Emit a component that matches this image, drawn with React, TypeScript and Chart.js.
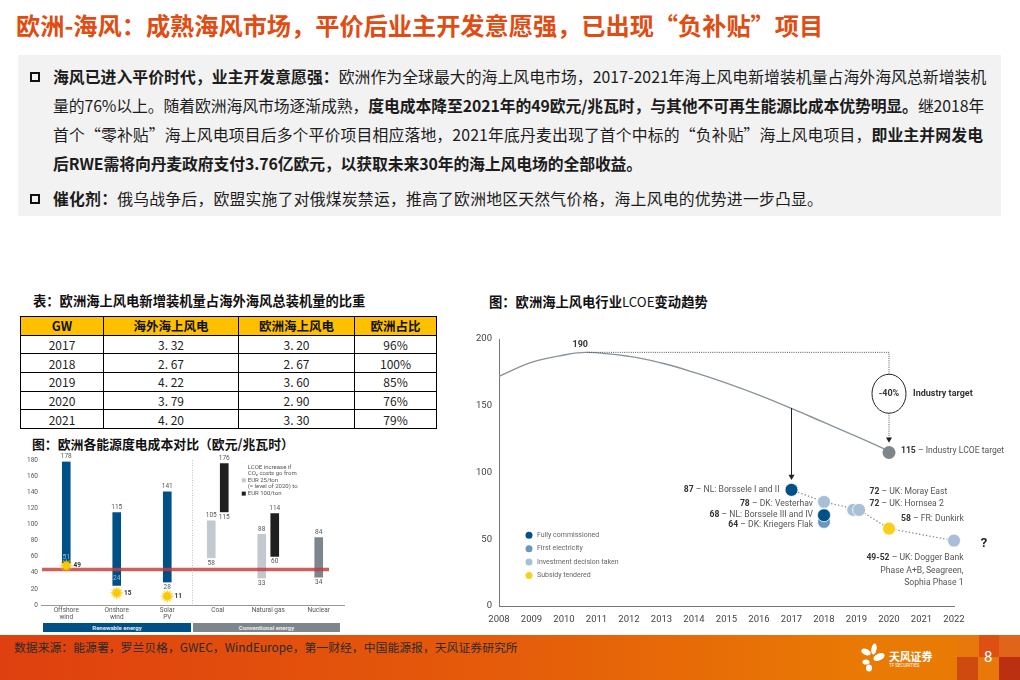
import { useEffect, useRef } from "react"
import { Chart, registerables } from "chart.js"

Chart.register(...registerables)

const CJK = '"Noto Sans CJK SC", sans-serif'
const LATIN = 'Roboto, "Noto Sans", sans-serif'

// Table data
const tableHeader = ["GW", "海外海上风电", "欧洲海上风电", "欧洲占比"]
const tableYears = ["2017", "2018", "2019", "2020", "2021"]
const tableOverseas = ["3. 32", "2. 67", "4. 22", "3. 79", "4. 20"]
const tableEurope = ["3. 20", "2. 67", "3. 60", "2. 90", "3. 30"]
const tableShare = ["96%", "100%", "85%", "76%", "79%"]

// Cost comparison chart (EUR/MWh)
const costCategories = [["Offshore", "wind"], ["Onshore", "wind"], ["Solar", "PV"], "Coal", "Natural gas", "Nuclear"]
const renewableRange = [[51, 178], [24, 115], [28, 141], null, null, null]
const co2LowRange = [null, null, null, [58, 105], [33, 88], null]
const co2HighRange = [null, null, null, [115, 176], [60, 114], null]
const nuclearRange = [null, null, null, null, null, [34, 84]]
const sunValues = [49, 15, 11, null, null, null]
const redLineLevel = 44
const costLegendLines = ["LCOE increase if", "CO₂ costs go from", "EUR 25/ton", "(= level of 2020) to", "EUR 100/ton"]

// LCOE trend chart
const trendYears = [2008, 2009, 2010, 2010.7, 2012, 2013, 2014, 2015, 2016, 2017, 2018, 2019, 2020]
const trendValues = [172, 182.5, 188, 190, 187, 182, 175, 167, 158, 148, 137.5, 127, 116]
const fullyCommissioned = [{ x: 2017, y: 87 }, { x: 2018, y: 68 }]
const firstElectricity = [{ x: 2018, y: 63 }]
const investmentDecision = [{ x: 2018, y: 78 }, { x: 2018.9, y: 72 }, { x: 2019.08, y: 72 }, { x: 2022, y: 49 }]
const subsidyTendered = [{ x: 2020, y: 58 }]
const industryTarget = [{ x: 2020, y: 115 }]
const auctionTrend = [{ x: 2017, y: 87 }, { x: 2018, y: 78 }, { x: 2019.08, y: 72 }, { x: 2020, y: 58 }, { x: 2022, y: 49 }, { x: 2022.77, y: 45 }]
const targetGuide = [{ x: 2010.7, y: 190 }, { x: 2020, y: 190 }, { x: 2020, y: 125 }]
const bidArrow = [{ x: 2017, y: 148 }, { x: 2017, y: 97 }]
const trendLegendNames = ["Fully commissioned", "First electricity", "Investment decision taken", "Subsidy tendered"]
const trendLegendColors = ["#00508a", "#6a97bf", "#a9bfd8", "#f7cf1c"]

// Slide text
const titleText = "欧洲-海风：成熟海风市场，平价后业主开发意愿强，已出现“负补贴”项目"
const bodyLines: [string, boolean][][] = [
  [["海风已进入平价时代，业主开发意愿强：", true], ["欧洲作为全球最大的海上风电市场，2017-2021年海上风电新增装机量占海外海风总新增装机", false]],
  [["量的76%以上。随着欧洲海风市场逐渐成熟，", false], ["度电成本降至2021年的49欧元/兆瓦时，与其他不可再生能源比成本优势明显。", true], ["继2018年", false]],
  [["首个“零补贴”海上风电项目后多个平价项目相应落地，2021年底丹麦出现了首个中标的“负补贴”海上风电项目，", false], ["即业主并网发电", true]],
  [["后RWE需将向丹麦政府支付3.76亿欧元，以获取未来30年的海上风电场的全部收益。", true]],
]
const bodySpacing = [0.03, -0.1, 0.13, -0.12]
const catalystLine: [string, boolean][] = [["催化剂：", true], ["俄乌战争后，欧盟实施了对俄煤炭禁运，推高了欧洲地区天然气价格，海上风电的优势进一步凸显。", false]]
const sourceText = "数据来源：能源署，罗兰贝格，GWEC，WindEurope，第一财经，中国能源报，天风证券研究所"

function makeSun() {
  const c = document.createElement("canvas")
  c.width = 15
  c.height = 15
  const g = c.getContext("2d")!
  g.fillStyle = "#f8c800"
  g.beginPath()
  for (let i = 0; i < 24; i++) {
    const r = i % 2 === 0 ? 7 : 3.6
    const a = (i * Math.PI) / 12
    g.lineTo(7.5 + r * Math.cos(a), 7.5 + r * Math.sin(a))
  }
  g.closePath()
  g.fill()
  return c
}

// keep the chart area exactly where layout.padding and afterFit put it
const noPad = (s: any) => {
  s.paddingTop = 0
  s.paddingBottom = 0
  s.paddingLeft = 0
  s.paddingRight = 0
}

function CostChart() {
  const ref = useRef<HTMLCanvasElement>(null)

  useEffect(() => {
    if (!ref.current) return
    const barBase = { skipNull: true, borderSkipped: false, borderColor: "#ffffff" }
    const wide = { barThickness: 13, borderWidth: { left: 2.5, right: 2.5, top: 0, bottom: 0 } }
    const single = { barThickness: 9, borderWidth: { left: 0.5, right: 0.5, top: 0, bottom: 0 } }

    const labelsPlugin = {
      id: "costLabels",
      // red level line goes over the bars but under the suns
      beforeDatasetDraw(chart: any, args: any) {
        if (args.index !== 4) return
        const { ctx, scales, chartArea } = chart
        const y = scales.y.getPixelForValue(redLineLevel)
        ctx.save()
        ctx.strokeStyle = "rgba(196,58,58,0.82)"
        ctx.lineWidth = 3.5
        ctx.beginPath()
        ctx.moveTo(chartArea.left + 1, y)
        ctx.lineTo(chartArea.right - 15, y)
        ctx.stroke()
        ctx.restore()
      },
      afterDatasetsDraw(chart: any) {
        const { ctx, scales } = chart
        ctx.save()
        ctx.textAlign = "center"
        ctx.textBaseline = "middle"
        ctx.font = `6.5px ${LATIN}`

        const drawRange = (index: number, lowInside: boolean[]) => {
          const data = chart.data.datasets[index].data
          chart.getDatasetMeta(index).data.forEach((el: any, i: number) => {
            if (!data[i]) return
            const [low, high] = data[i]
            ctx.fillStyle = "#555"
            ctx.fillText(String(high), el.x, scales.y.getPixelForValue(high) - 5)
            const inside = lowInside[i]
            ctx.fillStyle = inside ? "#9fc0da" : "#555"
            ctx.fillText(String(low), el.x, scales.y.getPixelForValue(low) + (inside ? -7 : 5))
          })
        }
        drawRange(0, [true, true, false])
        drawRange(1, [])
        drawRange(2, [])
        drawRange(3, [])

        // sun values
        ctx.font = `bold 6.5px ${LATIN}`
        ctx.fillStyle = "#333"
        chart.getDatasetMeta(4).data.forEach((pt: any, i: number) => {
          if (sunValues[i] == null) return
          ctx.fillText(String(sunValues[i]), pt.x + 11, pt.y)
        })

        // dotted separator between renewable and conventional
        const sepX = (scales.x.getPixelForValue(2) + scales.x.getPixelForValue(3)) / 2
        ctx.strokeStyle = "#aaa"
        ctx.lineWidth = 0.7
        ctx.setLineDash([1, 1.5])
        ctx.beginPath()
        ctx.moveTo(sepX, scales.y.getPixelForValue(180))
        ctx.lineTo(sepX, scales.y.getPixelForValue(0))
        ctx.stroke()
        ctx.setLineDash([])

        // small legend
        const lx = scales.x.getPixelForValue(3) + 30
        const ly = scales.y.getPixelForValue(180) + 7
        ctx.textAlign = "left"
        ctx.font = `6px ${LATIN}`
        ctx.fillStyle = "#555"
        costLegendLines.forEach((line, i) => ctx.fillText(line, lx, ly + i * 6.65))
        ctx.fillStyle = "#c2c9cf"
        ctx.fillRect(lx - 6, ly + 2 * 6.65 - 2, 4, 4)
        ctx.fillStyle = "#1f1f1f"
        ctx.fillRect(lx - 6, ly + 4 * 6.65 - 2, 4, 4)
        ctx.restore()
      },
    }

    const chart = new Chart(ref.current, {
      type: "bar",
      data: {
        labels: costCategories as any,
        datasets: [
          { ...barBase, ...single, label: "Renewable", data: renewableRange as any, backgroundColor: "#005088" },
          { ...barBase, ...wide, label: "EUR 25/ton", data: co2LowRange as any, backgroundColor: "#c2c9cf" },
          { ...barBase, ...wide, label: "EUR 100/ton", data: co2HighRange as any, backgroundColor: "#1f1f1f" },
          { ...barBase, ...single, label: "Nuclear", data: nuclearRange as any, backgroundColor: "#7d868d" },
          {
            type: "line", label: "Subsidy-free bids", data: sunValues as any, showLine: false, order: -2,
            pointStyle: makeSun() as any, pointRadius: 6,
          },
        ],
      },
      options: {
        responsive: false,
        animation: false,
        layout: { padding: { top: 10, right: 2, left: 0, bottom: 0 } },
        plugins: { legend: { display: false }, tooltip: { enabled: false } },
        scales: {
          x: {
            grid: { display: false, drawTicks: false },
            border: { color: "#999", width: 1 },
            ticks: { font: { family: LATIN, size: 6.5 }, color: "#555", maxRotation: 0, padding: 1, autoSkip: false },
            afterFit: (s: any) => { s.height = 25; noPad(s) },
          },
          y: {
            min: 0,
            max: 180,
            grid: { display: false, drawTicks: false },
            border: { display: false },
            ticks: { stepSize: 20, font: { family: LATIN, size: 6.5 }, color: "#555", padding: 3 },
            afterFit: (s: any) => { s.width = 21; noPad(s) },
          },
        },
      },
      plugins: [labelsPlugin],
    } as any)

    return () => chart.destroy()
  }, [])

  return <canvas ref={ref} width={331} height={180} style={{ position: "absolute", left: 20, top: 450, filter: "blur(0.3px)" }} />
}

function TrendChart() {
  const ref = useRef<HTMLCanvasElement>(null)

  useEffect(() => {
    if (!ref.current) return
    const dot = { showLine: false, pointRadius: 6.5, pointBorderColor: "#fff", pointBorderWidth: 0.8, clip: false }

    const textPlugin = {
      id: "trendText",
      afterDatasetsDraw(chart: any) {
        const { ctx, scales } = chart
        const X = (v: number) => scales.x.getPixelForValue(v)
        const Y = (v: number) => scales.y.getPixelForValue(v)
        const SIZE = 8.6

        // bold number followed by grey description
        const site = (num: string, rest: string, x: number, y: number, alignRight: boolean) => {
          ctx.font = `bold ${SIZE}px ${LATIN}`
          const a = ctx.measureText(num).width
          ctx.font = `${SIZE}px ${LATIN}`
          const b = ctx.measureText(rest).width
          const start = alignRight ? x - a - b : x
          ctx.textAlign = "left"
          ctx.font = `bold ${SIZE}px ${LATIN}`
          ctx.fillStyle = "#333"
          ctx.fillText(num, start, y)
          ctx.font = `${SIZE}px ${LATIN}`
          ctx.fillStyle = "#555"
          ctx.fillText(rest, start + a, y)
        }

        ctx.save()
        ctx.textBaseline = "middle"

        // -40% ring sits on top of the dotted guide
        ctx.fillStyle = "#fff"
        ctx.strokeStyle = "#222"
        ctx.lineWidth = 1
        ctx.beginPath()
        ctx.ellipse(X(2020), Y(159), 17, 19.5, 0, 0, Math.PI * 2)
        ctx.fill()
        ctx.stroke()
        ctx.textAlign = "center"
        ctx.fillStyle = "#333"
        ctx.font = `bold 9px ${LATIN}`
        ctx.fillText("-40%", X(2020), Y(159))
        ctx.fillText("190", X(2010.5), Y(196))
        ctx.textAlign = "left"
        ctx.fillText("Industry target", X(2020) + 24, Y(159))

        site("87", " – NL: Borssele I and II", X(2017) - 12, Y(87), true)
        site("78", " – DK: Vesterhav", X(2018) - 11, Y(76.5), true)
        site("68", " – NL: Borssele III and IV", X(2018) - 11, Y(68.5), true)
        site("64", " – DK: Kriegers Flak", X(2018) - 11, Y(60.5), true)
        site("72", " – UK: Moray East", X(2019) + 13, Y(85.5), false)
        site("72", " – UK: Hornsea 2", X(2019) + 13, Y(76.5), false)
        site("58", " – FR: Dunkirk", X(2020) + 12, Y(65), false)
        site("115", " – Industry LCOE target", X(2020) + 12, Y(116), false)
        site("49-52", " – UK: Dogger Bank", X(2022) + 9.5, Y(36), true)
        site("", "Phase A+B, Seagreen,", X(2022) + 9.5, Y(26.5), true)
        site("", "Sophia Phase 1", X(2022) + 9.5, Y(17.5), true)

        ctx.font = `bold 13px ${LATIN}`
        ctx.fillStyle = "#222"
        ctx.textAlign = "center"
        ctx.fillText("?", X(2022.92), Y(46.7))

        // legend
        trendLegendNames.forEach((name, i) => {
          const y = Y(53) + i * 13.4
          const x = X(2008) + 30
          ctx.fillStyle = trendLegendColors[i]
          ctx.beginPath()
          ctx.arc(x, y, 3.5, 0, Math.PI * 2)
          ctx.fill()
          ctx.font = `7px ${LATIN}`
          ctx.textAlign = "left"
          ctx.fillStyle = "#666"
          ctx.fillText(name, x + 8, y)
        })
        ctx.restore()
      },
    }

    const chart = new Chart(ref.current, {
      type: "line",
      data: {
        datasets: [
          { ...dot, label: "Investment decision taken", data: investmentDecision, backgroundColor: "#a9bfd8", pointBackgroundColor: "#a9bfd8" },
          { ...dot, label: "Fully commissioned", data: fullyCommissioned, backgroundColor: "#00508a", pointBackgroundColor: "#00508a" },
          { ...dot, label: "First electricity", data: firstElectricity, backgroundColor: "#6a97bf", pointBackgroundColor: "#6a97bf" },
          { ...dot, label: "Subsidy tendered", data: subsidyTendered, backgroundColor: "#f7cf1c", pointBackgroundColor: "#f7cf1c" },
          { ...dot, label: "Industry target", data: industryTarget, pointBackgroundColor: "#7d868d", pointBorderWidth: 0 },
          {
            label: "Auction trend", data: auctionTrend, borderColor: "#7f8a92", borderWidth: 1.3, borderDash: [1.3, 2.2],
            pointRadius: 0, tension: 0, clip: false,
          },
          {
            label: "Target guide", data: targetGuide, borderColor: "#555", borderWidth: 1, borderDash: [1, 1.2],
            tension: 0, pointStyle: "triangle", pointRotation: 180, pointRadius: [0, 0, 3.5],
            pointBackgroundColor: "#222", pointBorderWidth: 0,
          },
          {
            label: "Bid arrow", data: bidArrow, borderColor: "#222", borderWidth: 1, tension: 0,
            pointStyle: "triangle", pointRotation: 180, pointRadius: [0, 3.5], pointBackgroundColor: "#222", pointBorderWidth: 0,
          },
          {
            label: "Industry LCOE", data: trendYears.map((x, i) => ({ x, y: trendValues[i] })),
            borderColor: "#89939b", borderWidth: 1.4, pointRadius: 0, tension: 0.4,
          },
        ],
      },
      options: {
        responsive: false,
        animation: false,
        layout: { padding: { top: 9, right: 56, left: 0, bottom: 0 } },
        plugins: { legend: { display: false }, tooltip: { enabled: false } },
        scales: {
          x: {
            type: "linear",
            min: 2008,
            max: 2022,
            grid: { display: false, drawTicks: false },
            border: { color: "#777", width: 1 },
            ticks: {
              stepSize: 1, autoSkip: false, maxRotation: 0, padding: 8, color: "#444",
              font: { family: LATIN, size: 9.5 },
              callback: (v: any) => String(v),
            },
            afterFit: (s: any) => { s.height = 24; noPad(s) },
          },
          y: {
            min: 0,
            max: 200,
            grid: { display: false, drawTicks: false },
            border: { color: "#777", width: 1 },
            ticks: { stepSize: 50, color: "#444", padding: 7, font: { family: LATIN, size: 9.5 } },
            afterFit: (s: any) => { s.width = 29; noPad(s) },
          },
        },
      },
      plugins: [textPlugin],
    } as any)

    return () => chart.destroy()
  }, [])

  return <canvas ref={ref} width={540} height={300} style={{ position: "absolute", left: 470, top: 330 }} />
}

function Line({ parts, top, spacing }: { parts: [string, boolean][]; top: number; spacing: number }) {
  return (
    <div style={{ position: "absolute", left: 53, top, whiteSpace: "nowrap", fontSize: 15.85, lineHeight: "22px", color: "#1c1c1c", letterSpacing: spacing }}>
      {parts.map((p, i) => (
        <span key={i} style={{ fontWeight: p[1] ? 700 : 400 }}>{p[0]}</span>
      ))}
    </div>
  )
}

function Bullet({ top }: { top: number }) {
  return <div style={{ position: "absolute", left: 30, top, width: 6, height: 6, border: "2px solid #111" }} />
}

function Heading({ children, left, top, size }: { children: any; left: number; top: number; size: number }) {
  return (
    <div style={{ position: "absolute", left, top, fontSize: size, fontWeight: 700, lineHeight: "18px", color: "#111", whiteSpace: "nowrap" }}>{children}</div>
  )
}

function DataTable() {
  const cell = { border: "1px solid #000", padding: 0, textAlign: "center" as const, fontSize: 12, lineHeight: "15px", height: 17.7, color: "#222" }
  return (
    <table style={{ position: "absolute", left: 20, top: 316, width: 416, tableLayout: "fixed", borderCollapse: "collapse" }}>
      <colgroup>
        <col style={{ width: 83 }} />
        <col style={{ width: 135 }} />
        <col style={{ width: 116 }} />
        <col style={{ width: 82 }} />
      </colgroup>
      <thead>
        <tr>
          {tableHeader.map((h) => (
            <th key={h} style={{ ...cell, background: "#ffc000", color: "#111", fontWeight: 700, fontSize: 12.5 }}>{h}</th>
          ))}
        </tr>
      </thead>
      <tbody>
        {tableYears.map((y, i) => (
          <tr key={y}>
            <td style={cell}>{y}</td>
            <td style={cell}>{tableOverseas[i]}</td>
            <td style={cell}>{tableEurope[i]}</td>
            <td style={cell}>{tableShare[i]}</td>
          </tr>
        ))}
      </tbody>
    </table>
  )
}

function Footer() {
  const blocks = [
    [957, 635, 22, 22, "#e9780c"], [979, 635, 20, 22, "#de4f12"], [999, 635, 21, 22, "#e0641a"],
    [957, 657, 21, 23, "#cf4a0f"], [978, 657, 21, 23, "#e8780a"], [999, 657, 21, 23, "#bb3010"],
  ] as [number, number, number, number, string][]
  return (
    <>
      <div style={{ position: "absolute", left: 0, top: 635, width: 1020, height: 45, background: "linear-gradient(90deg,#df400f 0%,#e55c0a 50%,#e97a04 85%)" }} />
      {blocks.map(([l, t, w, h, c], i) => (
        <div key={i} style={{ position: "absolute", left: l, top: t, width: w, height: h, background: c }} />
      ))}
      <div style={{ position: "absolute", left: 14, top: 638, fontSize: 11.85, lineHeight: "18px", color: "#2a2a2a", whiteSpace: "nowrap" }}>{sourceText}</div>
      <svg style={{ position: "absolute", left: 860, top: 643 }} width={30} height={30} viewBox="0 0 30 30">
        <ellipse cx="6" cy="9" rx="5" ry="3" fill="#fff" transform="rotate(25 6 9)" />
        <ellipse cx="14" cy="6" rx="2.6" ry="5.5" fill="#fff" transform="rotate(10 14 6)" />
        <ellipse cx="19" cy="14" rx="6" ry="3.4" fill="#fff" transform="rotate(-25 19 14)" />
        <ellipse cx="6" cy="19" rx="3.6" ry="2.6" fill="#fff" />
        <ellipse cx="9" cy="25" rx="3" ry="3.6" fill="#fff" />
      </svg>
      <div style={{ position: "absolute", left: 889, top: 649, fontSize: 11, fontWeight: 700, lineHeight: "15px", color: "#fff", letterSpacing: -0.2 }}>天风证券</div>
      <div style={{ position: "absolute", left: 889, top: 663, fontSize: 4.5, lineHeight: "6px", color: "#fff", fontFamily: LATIN }}>TF SECURITIES</div>
      <div style={{ position: "absolute", left: 984, top: 648, fontSize: 15, lineHeight: "18px", color: "#fff", fontFamily: LATIN }}>8</div>
    </>
  )
}

export default function App() {
  return (
    <div style={{ position: "relative", width: 1020, height: 680, overflow: "hidden", background: "#fff", fontFamily: CJK }}>
      <style>{`body{margin:0}`}</style>
      <div style={{ position: "absolute", left: 16, top: 10, fontSize: 24.2, fontWeight: 700, lineHeight: "30px", color: "#e04c12", whiteSpace: "nowrap" }}>{titleText}</div>

      <div style={{ position: "absolute", left: 18, top: 55, width: 983, height: 161, background: "#f2f2f2" }} />
      <Bullet top={72} />
      {bodyLines.map((parts, i) => (
        <Line key={i} parts={parts} top={66 + i * 29} spacing={bodySpacing[i]} />
      ))}
      <Bullet top={194} />
      <Line parts={catalystLine} top={188} spacing={0.2} />

      <Heading left={33} top={292} size={13.3}>表：欧洲海上风电新增装机量占海外海风总装机量的比重</Heading>
      <DataTable />
      <Heading left={32} top={435} size={12.85}>图：欧洲各能源度电成本对比（欧元/兆瓦时）</Heading>
      <Heading left={489} top={293} size={13.3}>图：欧洲海上风电行业<span style={{ fontWeight: 400 }}>LCOE</span>变动趋势</Heading>

      <CostChart />
      <div style={{ position: "absolute", left: 43, top: 623, width: 148, height: 9, background: "#005088", color: "#dfe8ef", fontSize: 6, lineHeight: "9px", textAlign: "center", fontFamily: LATIN, fontWeight: 700 }}>Renewable energy</div>
      <div style={{ position: "absolute", left: 193, top: 623, width: 147, height: 9, background: "#7d868d", color: "#e8ebee", fontSize: 6, lineHeight: "9px", textAlign: "center", fontFamily: LATIN, fontWeight: 700 }}>Conventional energy</div>

      <TrendChart />
      <Footer />
    </div>
  )
}
